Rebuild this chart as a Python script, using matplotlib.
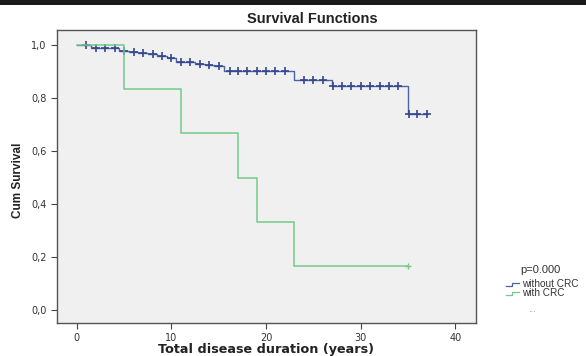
import matplotlib
matplotlib.use("Agg")
import matplotlib.pyplot as plt
import numpy as np
from matplotlib.lines import Line2D
from matplotlib.patches import Rectangle

# ---- data ----
# without CRC: step times (start of each level) and survival levels
blue_times = [0, 1.5, 4.5, 5.5, 6.5, 7.5, 8.5, 9.5, 10.5, 12.5, 13.5, 14.5, 15.6, 23.0, 27.0, 35.0, 37.0]
blue_surv = [1.0, 0.989, 0.979, 0.973, 0.969, 0.965, 0.960, 0.951, 0.937, 0.929, 0.925, 0.921, 0.903, 0.868, 0.845, 0.741, 0.741]
blue_censor = [1, 2, 3, 4, 5, 6, 7, 8, 9, 10, 11, 12, 13, 14, 15, 16.2, 17, 18, 19, 20, 21, 22,
               24, 25, 26, 27.1, 28, 29, 30, 31, 32, 33, 34, 35.1, 36, 37]

# with CRC
green_times = [0, 5, 11, 17, 19, 23, 35]
green_surv = [1.0, 0.833, 0.667, 0.5, 0.333, 0.167, 0.167]
green_censor = [35]

xticks = [0, 10, 20, 30, 40]
yticks = [0.0, 0.2, 0.4, 0.6, 0.8, 1.0]
ytick_labels = ["0,0", "0,2", "0,4", "0,6", "0,8", "1,0"]

title = "Survival Functions"
xlabel = "Total disease duration (years)"
ylabel = "Cum Survival"
legend_labels = ["without CRC", "with CRC"]
pval = "p=0.000"

blue = "#5062a4"
blue_mark = "#34478f"
green = "#74c98a"
arial = ["Liberation Sans", "DejaVu Sans"]

fig = plt.figure(figsize=(5.86, 3.56), dpi=100)
fig.patch.set_facecolor("white")
fig.add_artist(Rectangle((0, 1 - 5 / 356), 1, 5 / 356, transform=fig.transFigure,
                         facecolor="#1a1a1a", edgecolor="none"))

ax = fig.add_axes([57 / 586, 1 - 323 / 356, (476 - 57) / 586, (323 - 30) / 356])
ax.set_facecolor("#f0f0f0")
for s in ax.spines.values():
    s.set_color("#555555")
    s.set_linewidth(1.0)


def surv_at(times, surv, t):
    idx = np.searchsorted(times, t, side="right") - 1
    return surv[idx]


ax.step(blue_times, blue_surv, where="post", color=blue, lw=1.0)
ax.plot(blue_censor, [surv_at(blue_times, blue_surv, t) for t in blue_censor],
        linestyle="none", marker="+", markersize=5.5, mew=1.2, color=blue_mark)
ax.step(green_times, green_surv, where="post", color=green, lw=1.1)
ax.plot(green_censor, [surv_at(green_times, green_surv, t) for t in green_censor],
        linestyle="none", marker="+", markersize=5, mew=1.0, color=green)

ax.set_xlim(-2.1, 42.2)
ax.set_ylim(-0.049, 1.057)
ax.set_xticks(xticks)
ax.set_yticks(yticks)
ax.set_yticklabels(ytick_labels)
ax.tick_params(direction="out", length=4, width=0.8, colors="#444444", labelsize=7,
               labelcolor="#333333")
for lab in ax.get_xticklabels() + ax.get_yticklabels():
    lab.set_family(["DejaVu Sans"])

fig.text(312 / 586, 1 - 19 / 356, title, ha="center", va="center",
         fontsize=10.5, fontweight="bold", color="#222222", family=arial)
fig.text(266 / 586, 1 - 350 / 356, xlabel, ha="center", va="center",
         fontsize=9.2, fontweight="bold", color="#222222")
fig.text(18 / 586, 1 - 180 / 356, ylabel, ha="center", va="center", rotation=90,
         fontsize=8.5, fontweight="bold", color="#222222", family=arial)

# legend outside
fig.text(540 / 586, 1 - 270 / 356, pval, ha="center", va="center", fontsize=8,
         color="#333333", family=arial)
for i, (lab, col) in enumerate(zip(legend_labels, [blue, green])):
    yc = 1 - (284 + i * 9) / 356
    xs = np.array([506, 512, 512, 519]) / 586
    ys = yc + np.array([-1.5, -1.5, 1.5, 1.5]) / 356
    fig.add_artist(Line2D(xs, ys, color=col, lw=0.9, transform=fig.transFigure))
    fig.text(522 / 586, yc, lab, ha="left", va="center", fontsize=7.2, color="#333333",
             family=arial)
fig.text(532 / 586, 1 - 309 / 356, "...", ha="center", va="center", fontsize=6, color="#888888")

fig.savefig("out.png", dpi=100)
